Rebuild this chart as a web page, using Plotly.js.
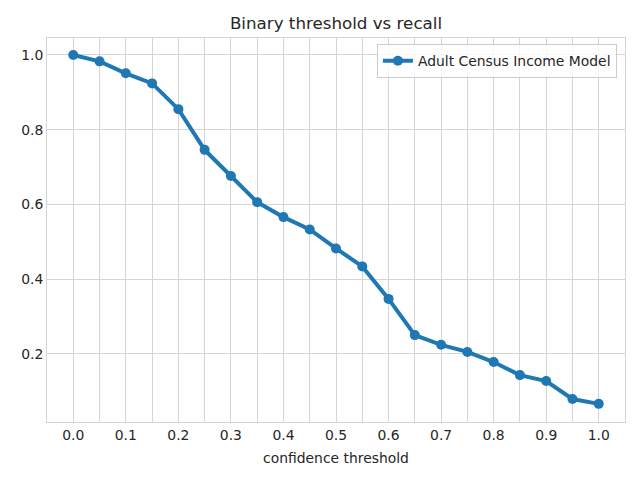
<!DOCTYPE html>
<html>
<head>
<meta charset="utf-8">
<script src="https://cdn.plot.ly/plotly-3.0.1.min.js"></script>
<style>html,body{margin:0;padding:0;background:#fff;}#chart{width:640px;height:480px;}</style>
</head>
<body>
<div id="chart"></div>
<script>
const thresholds = [0.0, 0.05, 0.1, 0.15, 0.2, 0.25, 0.3, 0.35, 0.4, 0.45, 0.5, 0.55, 0.6, 0.65, 0.7, 0.75, 0.8, 0.85, 0.9, 0.95, 1.0];
const recall = [1.0, 0.983, 0.951, 0.924, 0.855, 0.746, 0.676, 0.606, 0.566, 0.533, 0.482, 0.434, 0.347, 0.250, 0.224, 0.205, 0.178, 0.143, 0.127, 0.079, 0.066];
const seriesName = "Adult Census Income Model";
const xTickVals = [0.0, 0.1, 0.2, 0.3, 0.4, 0.5, 0.6, 0.7, 0.8, 0.9, 1.0];
const xTickText = ["0.0", "0.1", "0.2", "0.3", "0.4", "0.5", "0.6", "0.7", "0.8", "0.9", "1.0"];
const yTickVals = [0.2, 0.4, 0.6, 0.8, 1.0];
const yTickText = ["0.2", "0.4", "0.6", "0.8", "1.0"];

const font = "DejaVu Sans, sans-serif";
const textColor = "#262626";
const gridColor = "#d5d5d5";
const fs = 13.9;

const trace = {
  x: thresholds, y: recall, name: seriesName,
  type: "scatter", mode: "lines+markers",
  line: {color: "#1f77b4", width: 4},
  marker: {color: "#1f77b4", size: 10}
};

const layout = {
  width: 640, height: 480,
  margin: {l: 47, r: 15, t: 38, b: 58},
  paper_bgcolor: "#fff", plot_bgcolor: "#fff",
  font: {family: font, color: textColor, size: fs},
  title: {text: "Binary threshold vs recall", x: 0.5, xref: "paper", y: 0.952, yref: "container", yanchor: "middle", font: {family: font, size: 16.7, color: textColor}},
  showlegend: true,
  legend: {x: 0.986, y: 0.984, xanchor: "right", yanchor: "top", bgcolor: "rgba(255,255,255,0.8)", bordercolor: "#cccccc", borderwidth: 1, font: {family: font, size: fs, color: textColor}},
  xaxis: {
    range: [-0.05, 1.05], tickvals: xTickVals, ticktext: xTickText,
    showgrid: true, gridcolor: gridColor, gridwidth: 1,
    minor: {dtick: 0.05, tick0: 0, showgrid: true, gridcolor: gridColor, gridwidth: 1, ticks: ""},
    zeroline: false, showline: true, linecolor: gridColor, linewidth: 1, mirror: true,
    ticks: "", ticklen: 0,
    tickfont: {family: font, size: fs, color: textColor},
    title: {text: "confidence threshold", font: {family: font, size: fs, color: textColor}, standoff: 11}
  },
  yaxis: {
    range: [0.0174, 1.0455], tickvals: yTickVals, ticktext: yTickText,
    showgrid: true, gridcolor: gridColor, gridwidth: 1,
    zeroline: false, showline: true, linecolor: gridColor, linewidth: 1, mirror: true,
    ticks: "", ticklen: 0,
    tickfont: {family: font, size: fs, color: textColor}
  }
};

Plotly.newPlot("chart", [trace], layout, {displayModeBar: false, staticPlot: true});
</script>
</body>
</html>
